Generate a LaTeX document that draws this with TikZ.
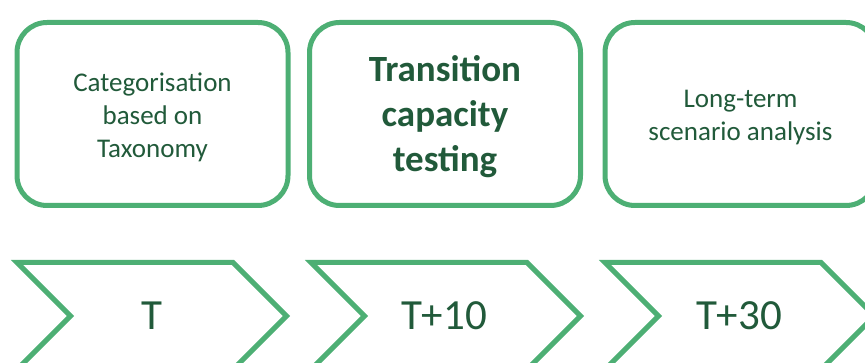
\documentclass[tikz,border=0pt]{standalone}
\usepackage{fontspec}
\setmainfont{Carlito}
\usepackage{xcolor}

\definecolor{framegreen}{HTML}{4DAF74}
\definecolor{textgreen}{HTML}{215A3A}

\tikzset{
  stagebox/.style={draw=framegreen, line width=5pt, rounded corners=30pt, fill=white,
    minimum width=271pt, minimum height=183pt, inner sep=0pt},
  boxtext/.style={align=center, text=textgreen, inner sep=0pt,
    font=\fontsize{27}{33}\selectfont},
  chevron/.style={draw=framegreen, line width=5pt, line join=miter},
  timelabel/.style={text=textgreen, font=\fontsize{43}{48}\selectfont}
}

\begin{document}
\begin{tikzpicture}[x=1pt, y=-1pt]
            \useasboundingbox (0,0) rectangle (865,363);
            \clip (0,0) rectangle (865,363);

            % Upper row: the three stage boxes
            \node[stagebox] (categ) at (152.5,114) {};
            \node[stagebox] (transit) at (445,114) {};
            \node[stagebox] (longterm) at (740.5,114) {};

            % Texts of the stage boxes
            \node[boxtext] (categtext) at ([yshift=-3pt]categ.center) {Categorisation\\based on\\Taxonomy};
            \node[boxtext, font=\fontsize{37}{45}\selectfont\bfseries]
                (transittext) at ([yshift=-3pt]transit.center) {Transition\\capacity\\testing};
            \node[boxtext] (longtermtext) at ([yshift=-4pt]longterm.center) {Long-term\\scenario analysis};

            % Lower row: chevrons of the time line
            \foreach \x in {17,311,605} {
                \draw[chevron] (\x,262.5) -- (\x+216,262.5) -- (\x+269.5,316) -- (\x+216,369.5)
                    -- (\x,369.5) -- (\x+53.5,316) -- cycle;
            }

            % Labels in the chevrons
            \node[timelabel] (tnow) at (152,316) {T};
            \node[timelabel] (tten) at (444,316) {T+10};
            \node[timelabel] (tthirty) at (739,316) {T+30};
        \end{tikzpicture}
\end{document}
